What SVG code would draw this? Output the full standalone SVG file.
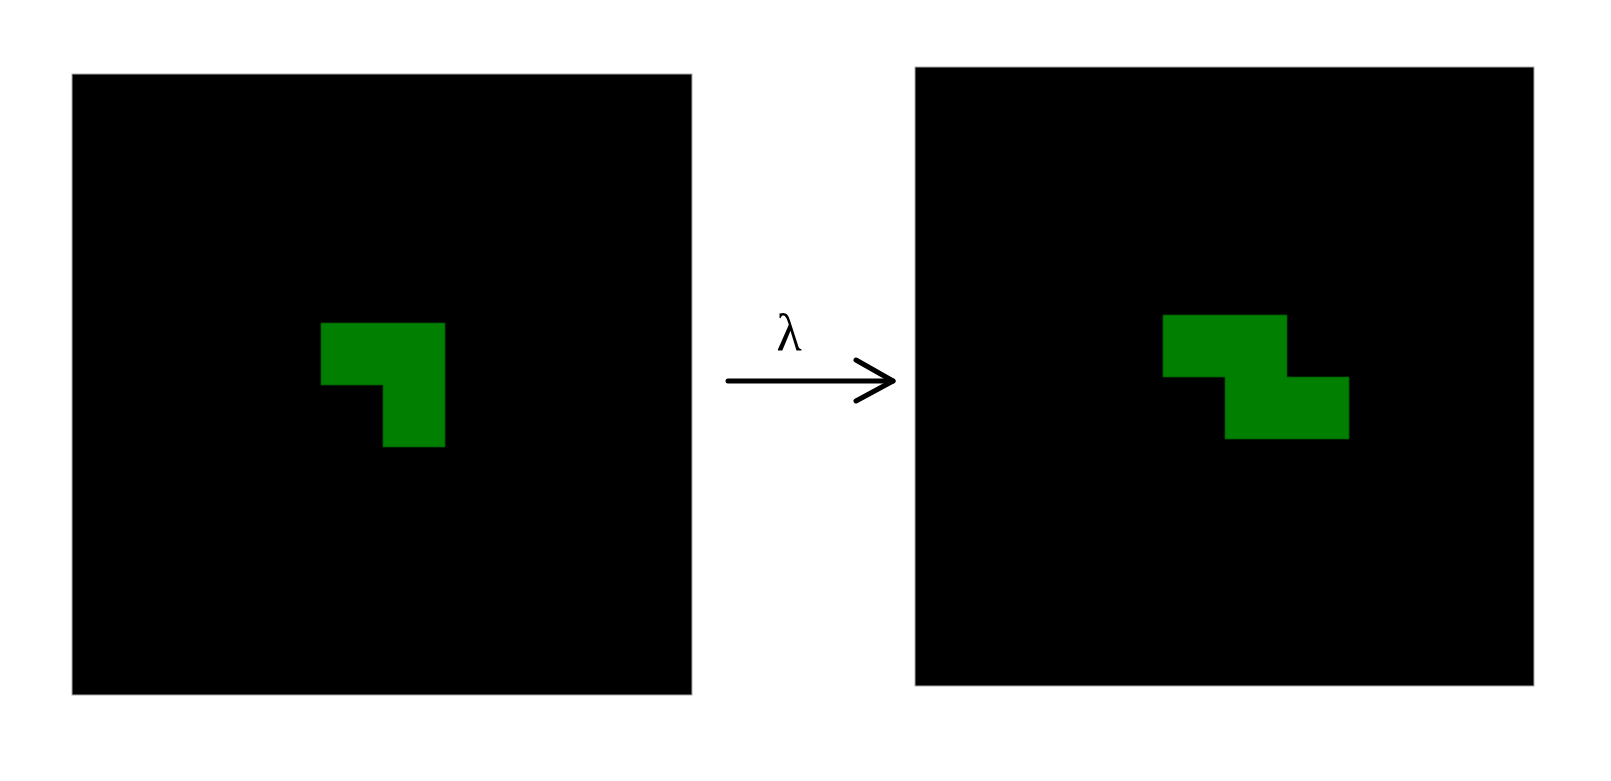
<svg xmlns="http://www.w3.org/2000/svg" width="1611" height="781" viewBox="0 0 1611 781">
<style>
.board{fill:#000;stroke:#aaa;stroke-width:1}
.cell{fill:#007f00;stroke:#005500;stroke-width:0.8}
.arr{fill:none;stroke:#000;stroke-width:5;stroke-linecap:round;stroke-linejoin:round}
.lbl{font-family:"Liberation Serif",serif;font-size:52px;fill:#000}
</style>
<rect width="1611" height="781" fill="#fff"/>
<g id="left-board">
<rect class="board" x="72" y="74" width="620" height="621"/>
<path class="cell" d="M321,323 H445 V447 H383 V385 H321 Z"/>
</g>
<g id="right-board">
<rect class="board" x="915" y="67" width="619" height="619"/>
<path class="cell" d="M1163,315 H1287 V377 H1349 V439 H1225 V377 H1163 Z"/>
</g>
<g id="connectors">
<path class="arr" d="M728,381 H893"/>
<path class="arr" d="M856,360 L893,381 L856,401"/>
<text class="lbl" x="789" y="350" text-anchor="middle">λ</text>
</g>
</svg>
